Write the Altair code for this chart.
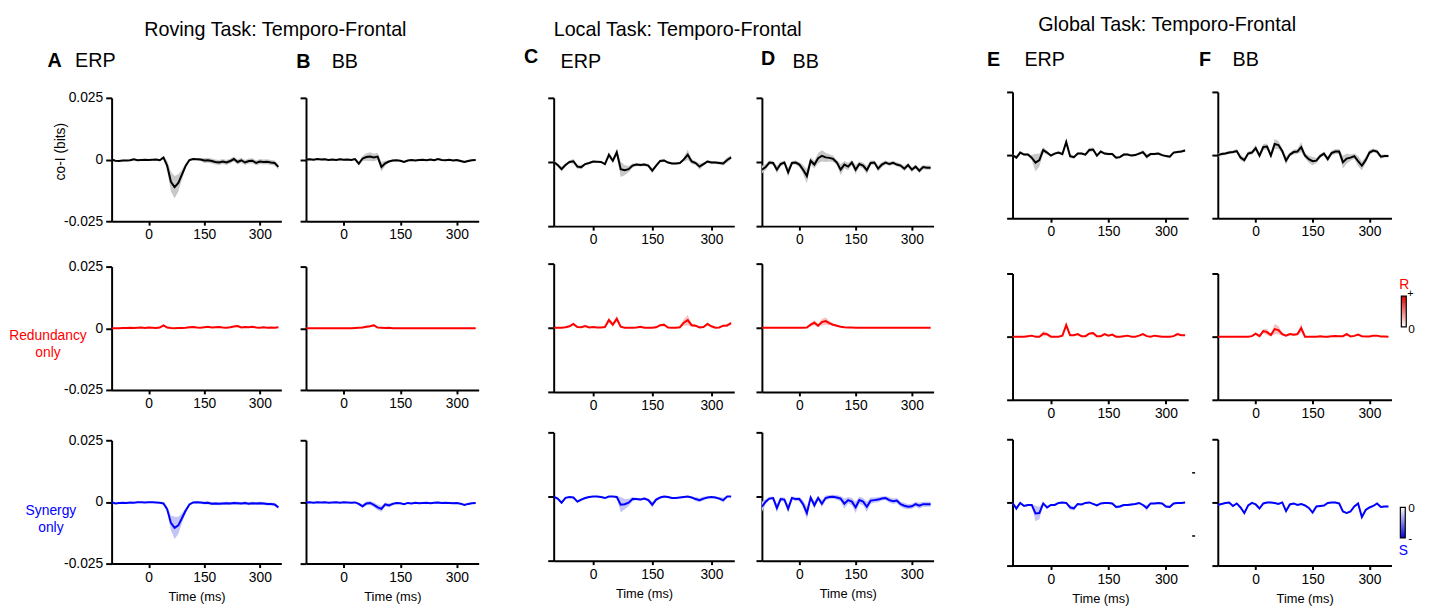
import altair as alt
import pandas as pd

# time axis (ms) shared by all panels
T = list(range(-100, 351, 10))
UNIT = 1e-4  # all series below are written in units of 1e-4 bits

# ---- Roving task ----
A1 = [0, -5, -6, -4, -4, -3, 1, -3, -2, -1,
      -2, -1, 0, -3, 8, -25, -90, -112, -95, -60,
      -25, -2, 2, 1, 0, -4, -3, -6, -10, -12,
      -8, -12, -6, 2, -10, -3, -12, -6, -5, -14,
      -8, -10, -9, -12, -14, -30]
A1_E = [3, 3, 3, 3, 3, 3, 3, 3, 3, 3,
        3, 3, 3, 4, 6, 20, 40, 45, 35, 20,
        10, 5, 4, 4, 6, 10, 10, 10, 10, 10,
        10, 10, 10, 10, 10, 10, 10, 10, 10, 10,
        10, 10, 10, 10, 10, 10]
A2 = [0, 0, 0, 1, 1, 2, 1, 2, 3, 1,
      3, 2, 1, 3, 12, 3, 1, 0, 1, 1,
      2, 4, 5, 3, 2, 4, 6, 3, 4, 5,
      3, 2, 4, 7, 9, 3, 5, 4, 6, 3,
      2, 4, 2, 3, 2, 4]
A2_E = [1, 1, 1, 1, 1, 1, 1, 1, 1, 1,
        1, 1, 1, 2, 4, 2, 1, 1, 1, 1,
        1, 2, 2, 2, 1, 2, 2, 2, 2, 2,
        2, 2, 2, 3, 4, 2, 2, 2, 2, 2,
        2, 2, 2, 2, 2, 2]
A3 = [-1, -6, -4, -3, -4, -2, -3, -1, -1, -2,
      -1, -1, -2, -3, -6, -30, -85, -105, -95, -65,
      -35, -10, -2, -1, -2, -4, -3, -7, -6, -7,
      -6, -5, -6, -4, -5, -6, -4, -7, -5, -6,
      -5, -6, -8, -8, -10, -22]
A3_E = [2, 2, 2, 2, 2, 2, 2, 2, 2, 2,
        2, 2, 2, 2, 4, 12, 30, 45, 35, 20,
        10, 4, 3, 3, 4, 6, 6, 6, 6, 6,
        6, 6, 6, 6, 6, 6, 6, 6, 6, 6,
        6, 6, 6, 6, 6, 6]
B1 = [0, 1, -1, 2, 0, 1, -2, 0, -2, 1,
      -1, 0, -2, 2, -17, 4, 10, 12, 8, 12,
      -30, -15, -8, -4, -3, -5, -10, -4, -2, -4,
      -2, -1, -3, 0, -3, 2, -2, -3, -1, -4,
      -2, -6, -10, -6, -3, -2]
B1_E = [3, 3, 3, 3, 3, 3, 3, 3, 3, 3,
        3, 3, 3, 4, 8, 10, 15, 18, 15, 14,
        20, 10, 5, 4, 3, 3, 4, 3, 3, 3,
        3, 3, 3, 3, 3, 3, 3, 3, 3, 3,
        5, 5, 5, 5, 3, 3]
B2 = [0, 0, 0, 0, 0, 0, 0, 0, 0, 0,
      0, 0, 0, 1, 2, 3, 6, 8, 12, 3,
      2, 1, 2, 0, 0, 0, 0, 0, 0, 0,
      0, 0, 0, 0, 0, 0, 0, 0, 0, 0,
      0, 0, 0, 0, 0, 0]
B2_E = [1, 1, 1, 1, 1, 1, 1, 1, 1, 1,
        1, 1, 1, 1, 2, 3, 4, 4, 4, 2,
        2, 1, 1, 1, 1, 1, 1, 1, 1, 1,
        1, 1, 1, 1, 1, 1, 1, 1, 1, 1,
        1, 1, 1, 1, 1, 1]
B3 = [-2, -1, -3, -1, -2, -1, -3, -2, -1, -3,
      -1, -2, -3, -2, -8, -18, -6, -4, -12, -22,
      -28, -10, -14, -8, -4, -5, -9, -4, -6, -3,
      -5, -4, -3, -5, -3, -2, -4, -3, -4, -5,
      -4, -7, -12, -8, -5, -4]
B3_E = [2, 2, 2, 2, 2, 2, 2, 2, 2, 2,
        2, 2, 2, 2, 6, 8, 8, 8, 10, 12,
        12, 8, 8, 6, 3, 3, 3, 3, 3, 3,
        3, 3, 3, 3, 3, 3, 3, 3, 3, 3,
        3, 3, 4, 3, 3, 3]

# ---- Local task ----
C1 = [0, -12, -28, -12, 0, 3, -18, -20, -8, -4,
      2, 1, 0, -8, 28, 5, 38, -28, -32, -28,
      -14, -10, -12, -10, -14, -34, -14, 4, 6, -2,
      -6, -6, -4, 10, 28, 2, -4, -18, -8, 2,
      -2, -2, -4, -6, 8, 18]
C1_E = [4, 6, 10, 6, 5, 10, 8, 8, 5, 4,
        3, 3, 3, 5, 12, 8, 15, 30, 20, 12,
        8, 6, 6, 6, 6, 10, 6, 6, 6, 4,
        4, 4, 4, 8, 20, 10, 8, 12, 6, 6,
        6, 6, 6, 8, 10, 8]
C2 = [0, 0, 0, 2, 6, 15, 3, 2, 7, 1,
      3, 1, 1, 3, 30, 12, 35, 4, 0, 0,
      0, 1, 4, 0, 0, 0, 2, 10, 12, 1,
      0, 0, 2, 20, 30, 10, 8, 1, 3, 15,
      6, 0, 1, 8, 9, 18]
C2_E = [1, 1, 1, 1, 3, 6, 2, 2, 3, 1,
        1, 1, 1, 2, 10, 8, 12, 3, 1, 1,
        1, 1, 2, 1, 1, 1, 2, 5, 6, 1,
        1, 1, 2, 12, 20, 6, 5, 1, 2, 6,
        3, 1, 1, 4, 4, 6]
C3 = [0, -8, -24, -5, -2, -4, -20, -12, -6, -2,
      0, 0, -2, -6, 0, 0, -2, -32, -30, -24,
      -10, -10, -12, -8, -14, -32, -12, -4, 0, -2,
      -6, -6, -4, -2, 0, -4, -10, -14, -8, -4,
      -2, -4, -8, -14, 0, 0]
C3_E = [2, 4, 6, 3, 3, 3, 5, 5, 3, 2,
        2, 2, 2, 3, 2, 2, 3, 30, 20, 14,
        8, 5, 5, 5, 6, 12, 6, 3, 2, 2,
        3, 3, 3, 3, 2, 3, 8, 8, 8, 4,
        3, 4, 6, 10, 2, 2]
D1 = [-30, -20, -2, -4, -30, -8, -2, -40, -4, -2,
      -10, -30, -55, 5, -10, 15, 24, 18, 16, 12,
      -2, -30, -10, -18, -2, -30, -8, -14, -32, -4,
      -2, -26, -10, -2, -8, -3, -10, -14, -26, -12,
      -30, -18, -34, -20, -22, -22]
D1_E = [15, 12, 8, 8, 15, 10, 8, 18, 8, 8,
        10, 18, 28, 15, 15, 20, 22, 18, 14, 12,
        10, 22, 14, 14, 10, 18, 10, 12, 16, 10,
        8, 12, 10, 8, 8, 8, 8, 8, 10, 8,
        10, 8, 10, 8, 8, 8]
D2 = [0, 0, 0, 0, 0, 0, 0, 0, 0, 0,
      0, 0, 1, 12, 20, 8, 22, 26, 18, 12,
      8, 4, 2, 1, 1, 0, 0, 0, 0, 0,
      0, 0, 0, 0, 0, 0, 0, 0, 0, 0,
      0, 0, 0, 0, 0, 0]
D2_E = [1, 1, 1, 1, 1, 1, 1, 1, 1, 1,
        1, 1, 1, 6, 10, 6, 12, 14, 8, 4,
        3, 2, 1, 1, 1, 1, 1, 1, 1, 1,
        1, 1, 1, 1, 1, 1, 1, 1, 1, 1,
        1, 1, 1, 1, 1, 1]
D3 = [-40, -20, -8, -6, -45, -10, -12, -48, -6, -10,
      -10, -30, -65, -4, -34, -6, -28, -6, -2, -1,
      -4, -8, -28, -14, -20, -42, -14, -20, -40, -16,
      -14, -12, -8, -6, -14, -18, -16, -30, -36, -40,
      -38, -30, -36, -30, -30, -30]
D3_E = [20, 10, 6, 6, 18, 8, 8, 16, 6, 8,
        8, 14, 24, 8, 16, 8, 14, 10, 8, 8,
        10, 10, 20, 12, 14, 22, 14, 14, 20, 12,
        10, 10, 8, 8, 10, 10, 10, 10, 12, 10,
        10, 10, 12, 10, 10, 10]

# ---- Global task ----
E1 = [0, -10, 10, 2, 2, -10, -30, -20, 20, 10,
      -2, 6, 10, 4, 52, -4, -8, 6, 6, 2,
      20, 22, -2, 14, 6, 4, 4, -10, -8, 2,
      2, -2, 0, 6, 12, -6, 4, 4, 6, 0,
      -4, -6, 10, 12, 14, 18]
E1_E = [4, 6, 6, 5, 5, 10, 35, 25, 12, 8,
        5, 5, 5, 5, 15, 8, 6, 5, 5, 5,
        8, 8, 5, 5, 5, 5, 5, 6, 5, 5,
        5, 5, 5, 5, 8, 10, 5, 5, 5, 5,
        5, 5, 5, 5, 5, 5]
E2 = [0, 0, 0, 0, 2, 4, 0, 0, 12, 10,
      0, 0, 0, 4, 46, 6, 6, 10, 2, 2,
      12, 14, 2, 2, 10, 4, 8, 0, 0, 2,
      4, 0, 0, 4, 10, 2, 0, 4, 2, 0,
      0, 0, 2, 10, 6, 6]
E2_E = [1, 1, 1, 1, 1, 2, 1, 1, 10, 6,
        1, 1, 1, 2, 14, 3, 3, 4, 1, 1,
        4, 5, 1, 1, 3, 2, 3, 1, 1, 1,
        1, 1, 1, 2, 4, 1, 1, 2, 1, 1,
        1, 1, 1, 4, 2, 2]
E3 = [-2, -24, -2, -14, -10, -10, -44, -42, -4, -20,
      -10, -10, -2, 0, -2, -20, -24, -6, -8, -2,
      0, -6, -12, -4, -2, -2, -4, -18, -16, -10,
      -10, -8, -6, -2, -10, -22, -4, -4, -2, -4,
      -16, -18, -4, -2, -2, 0]
E3_E = [3, 10, 3, 4, 4, 4, 30, 25, 4, 6,
        4, 4, 3, 3, 3, 10, 8, 4, 4, 3,
        3, 3, 4, 3, 3, 3, 3, 6, 5, 4,
        4, 4, 3, 3, 4, 12, 3, 3, 3, 3,
        5, 5, 3, 3, 3, 3]
F1 = [0, 4, 6, 10, 12, 16, -10, -20, 6, 10,
      28, -2, 32, 34, -2, 44, 40, 16, -22, 2,
      12, 14, 32, -2, -16, -24, -22, -4, 6, -16,
      8, 14, 14, -28, -14, -10, -4, -24, -42, -20,
      10, 18, 14, -6, -4, -4]
F1_E = [6, 6, 6, 6, 6, 8, 10, 10, 8, 8,
        12, 10, 12, 12, 10, 20, 16, 10, 16, 8,
        10, 10, 20, 10, 14, 16, 10, 8, 8, 10,
        10, 10, 10, 25, 20, 12, 10, 20, 18, 12,
        10, 8, 8, 8, 6, 6]
F2 = [0, 0, 0, 0, 0, 0, 0, 0, 0, 2,
      12, 2, 22, 18, 6, 30, 26, 10, 4, 10,
      8, 10, 34, 0, 0, 0, 0, 2, 0, 0,
      2, 3, 2, 2, 10, 1, 3, 8, 2, 1,
      1, 4, 4, 1, 1, 0]
F2_E = [1, 1, 1, 1, 1, 1, 1, 1, 1, 1,
        4, 2, 8, 12, 4, 20, 16, 6, 3, 4,
        4, 5, 18, 1, 1, 1, 1, 1, 1, 1,
        1, 1, 1, 1, 6, 1, 2, 3, 1, 1,
        1, 2, 2, 1, 1, 1]
F3 = [-10, -6, -2, 0, -14, -4, -20, -42, -12, -2,
      -8, -24, -4, 0, 0, -2, -6, 0, -34, -8,
      -4, -10, -6, -12, -22, -40, -16, -14, -12, -2,
      0, 0, -4, -36, -42, -36, -16, -4, -58, -30,
      -20, -14, -4, -18, -16, -16]
F3_E = [3, 3, 3, 3, 3, 3, 3, 4, 3, 3,
        3, 4, 3, 3, 3, 3, 3, 3, 4, 3,
        3, 3, 3, 3, 3, 4, 3, 3, 3, 3,
        3, 3, 3, 4, 4, 4, 3, 3, 5, 4,
        3, 3, 3, 3, 3, 3]

TASK_TITLES = ["Roving Task: Temporo-Frontal", "Local Task: Temporo-Frontal",
               "Global Task: Temporo-Frontal"]
PANEL_LETTERS = ["A", "B", "C", "D", "E", "F"]
PANEL_NAMES = ["ERP", "BB", "ERP", "BB", "ERP", "BB"]
Y_TICKS = [-0.025, 0, 0.025]
X_TICKS = [0, 150, 300]

FONT = "Liberation Sans"
XDOM = [-100, 358]
YDOM = [-0.025, 0.025]
BLACK = ("#000000", "#c8c8c8")
RED = ("#ff0000", "#f7c0c0")
BLUE = ("#0000ff", "#c4c4f5")
ONE = pd.DataFrame({"k": [0]})


def make_df(vals, errs):
    return pd.DataFrame({
        "t": T,
        "v": [v * UNIT for v in vals],
        "lo": [(v - e) * UNIT for v, e in zip(vals, errs)],
        "hi": [(v + e) * UNIT for v, e in zip(vals, errs)],
    })


def txt(text, x, y, size=20, color="black", weight="normal", align="left",
        baseline="alphabetic"):
    return alt.Chart(ONE).mark_text(
        text=text, fontSize=size, color=color, fontWeight=weight, align=align,
        baseline=baseline, font=FONT).encode(x=alt.value(x), y=alt.value(y))


def hrule(x1, x2, y, color="black", w=1.5):
    return alt.Chart(ONE).mark_rule(color=color, strokeWidth=w).encode(
        x=alt.value(x1), x2=alt.value(x2), y=alt.value(y))


def colorbar(x1, x2, y1, y2, top, bottom):
    grad = alt.LinearGradient(
        gradient="linear", x1=0, x2=0, y1=0, y2=1,
        stops=[alt.GradientStop(color=top, offset=0),
               alt.GradientStop(color=bottom, offset=1)])
    return alt.Chart(ONE).mark_rect(fill=grad, stroke="black", strokeWidth=1.2).encode(
        x=alt.value(x1), x2=alt.value(x2), y=alt.value(y1), y2=alt.value(y2))


def frame(left, right, top, bottom, w, h):
    # invisible box that fixes the room each panel takes in the layout
    return alt.Chart(ONE).mark_rect(opacity=0).encode(
        x=alt.value(-left), x2=alt.value(w + right),
        y=alt.value(-top), y2=alt.value(h + bottom))


def panel(vals, errs, colors, width, height, room, ylabels=False, ytitle=None,
          xtitle=False, extras=(), lift=0):
    df = make_df(vals, errs)
    ykw = dict(values=Y_TICKS, tickSize=6, labelPadding=3, labelFontSize=14,
               labels=ylabels,
               labelExpr="datum.value > 0 ? '0.025' : (datum.value < 0 ? '-0.025' : '0')")
    if ytitle is not None:
        ykw.update(ytitle)
    else:
        ykw["title"] = None
    yaxis = alt.Axis(**ykw)
    xkw = dict(values=X_TICKS, tickSize=4, labelPadding=3, labelFontSize=14,
               title="Time (ms)" if xtitle else None, titleFontSize=13,
               titlePadding=6)
    if lift:
        xkw["offset"] = -lift
    xaxis = alt.Axis(**xkw)
    xs = alt.Scale(domain=XDOM, nice=False, zero=False)
    if lift:
        ys = alt.Scale(domain=YDOM, nice=False, zero=False,
                       range=[height - lift, -lift])
    else:
        ys = alt.Scale(domain=YDOM, nice=False, zero=False)
    base = alt.Chart(df)
    band = base.mark_area(color=colors[1], opacity=1, clip=True).encode(
        x=alt.X("t:Q", scale=xs, axis=xaxis),
        y=alt.Y("lo:Q", scale=ys, axis=yaxis),
        y2="hi:Q")
    line = base.mark_line(color=colors[0], strokeWidth=2, clip=True).encode(
        x=alt.X("t:Q", scale=xs, axis=xaxis),
        y=alt.Y("v:Q", scale=ys, axis=yaxis))
    box = frame(room[0], room[1], room[2], room[3], width, height)
    return alt.layer(box, band, line, *extras).properties(width=width, height=height)


YT1 = dict(title="co-I (bits)", titleAngle=270, titleX=-52, titleY=54,
           titleAlign="center", titleBaseline="middle", titleFontSize=14,
           titleColor="black")
YT2 = dict(title=["Redundancy", "only"], titleAngle=0, titleX=-65, titleY=70,
           titleAlign="center", titleBaseline="middle", titleFontSize=14,
           titleLineHeight=17, titleColor="#ff0000")
YT3 = dict(title=["Synergy", "only"], titleAngle=0, titleX=-62, titleY=71,
           titleAlign="center", titleBaseline="middle", titleFontSize=14,
           titleLineHeight=17, titleColor="#0000ff")

# widths / heights per column / group
WA, WB, WC, WD, WE, WF = 172, 175, 183, 174, 178, 176
H1, H2, H3 = 125, 130, 128
LIFT3 = 6   # top-row plots of the Global group sit a little higher
# horizontal room (left, right) around each column's plot area
LR = {"A": (105, 10), "B": (15, 36), "C": (40, 11), "D": (17, 40),
      "E": (40, 8), "F": (22, 30)}
TOPS = {1: 51, 2: 50, 3: 56}   # room above top-row plots, per group
MID_TOP = 12                    # room above rows 2 and 3
# room below rows 1, 2, 3 per group
BOT = {1: (34, 39, 40), 2: (26, 29, 40), 3: (38, 28, 40)}


def room(col, grp, row):
    l, r = LR[col]
    t = TOPS[grp] if row == 0 else MID_TOP
    return (l, r, t, BOT[grp][row])


# ---- Roving group ----
pA1 = panel(A1, A1_E, BLACK, WA, H1, room("A", 1, 0), ylabels=True, ytitle=YT1, extras=[
    txt(PANEL_LETTERS[0], -65, -31, weight="bold"),
    txt(PANEL_NAMES[0], -37, -31)])
pA2 = panel(A2, A2_E, RED, WA, H1, room("A", 1, 1), ylabels=True, ytitle=YT2)
pA3 = panel(A3, A3_E, BLUE, WA, H1, room("A", 1, 2), ylabels=True, ytitle=YT3, xtitle=True)
pB1 = panel(B1, B1_E, BLACK, WB, H1, room("B", 1, 0), extras=[
    txt(PANEL_LETTERS[1], -10, -30, weight="bold"),
    txt(PANEL_NAMES[1], 26, -30)])
pB2 = panel(B2, B2_E, RED, WB, H1, room("B", 1, 1))
pB3 = panel(B3, B3_E, BLUE, WB, H1, room("B", 1, 2), xtitle=True)

# ---- Local group ----
pC1 = panel(C1, C1_E, BLACK, WC, H2, room("C", 2, 0), extras=[
    txt(PANEL_LETTERS[2], -30, -35, weight="bold"),
    txt(PANEL_NAMES[2], 7, -30)])
pC2 = panel(C2, C2_E, RED, WC, H2, room("C", 2, 1))
pC3 = panel(C3, C3_E, BLUE, WC, H2, room("C", 2, 2), xtitle=True)
pD1 = panel(D1, D1_E, BLACK, WD, H2, room("D", 2, 0), extras=[
    txt(PANEL_LETTERS[3], -1, -33, weight="bold"),
    txt(PANEL_NAMES[3], 31, -30)])
pD2 = panel(D2, D2_E, RED, WD, H2, room("D", 2, 1))
pD3 = panel(D3, D3_E, BLUE, WD, H2, room("D", 2, 2), xtitle=True)

# ---- Global group ----
pE1 = panel(E1, E1_E, BLACK, WE, H3, room("E", 3, 0), lift=LIFT3, extras=[
    txt(PANEL_LETTERS[4], -26, -32, weight="bold"),
    txt(PANEL_NAMES[4], 12, -32)])
pE2 = panel(E2, E2_E, RED, WE, H3, room("E", 3, 1))
pE3 = panel(E3, E3_E, BLUE, WE, H3, room("E", 3, 2), xtitle=True, extras=[
    hrule(182, 185, 34), hrule(182, 185, 98)])
pF1 = panel(F1, F1_E, BLACK, WF, H3, room("F", 3, 0), lift=LIFT3, extras=[
    txt(PANEL_LETTERS[5], -19, -32, weight="bold"),
    txt(PANEL_NAMES[5], 15, -32)])
pF2 = panel(F2, F2_E, RED, WF, H3, room("F", 3, 1), extras=[
    colorbar(186, 191, 23, 54, "#e00000", "#ffffff"),
    txt("R", 189, 16, size=14, color="#ff0000", align="center"),
    txt("+", 192, 24, size=11),
    txt("0", 193, 60, size=12)])
pF3 = panel(F3, F3_E, BLUE, WF, H3, room("F", 3, 2), xtitle=True, extras=[
    colorbar(185, 190, 69, 100, "#ffffff", "#0000e0"),
    txt("0", 193, 74, size=12),
    txt("-", 193, 104, size=12),
    txt("S", 188, 117, size=14, color="#0000ff", align="center")])


def group(cols, title, dx, offset):
    c = [alt.vconcat(*col, spacing=0) for col in cols]
    return alt.hconcat(*c, spacing=0, title=alt.TitleParams(
        text=title, anchor="start", frame="bounds", dx=dx, offset=offset,
        fontSize=20, fontWeight="normal", font=FONT, color="black",
        baseline="alphabetic"))


G1 = group([(pA1, pA2, pA3), (pB1, pB2, pB3)], TASK_TITLES[0], 138, -8)
G2 = group([(pC1, pC2, pC3), (pD1, pD2, pD3)], TASK_TITLES[1], 40, -8)
G3 = group([(pE1, pE2, pE3), (pF1, pF2, pF3)], TASK_TITLES[2], 66, -8)

chart = alt.hconcat(G1, G2, G3, spacing=0).properties(
    padding={"left": 0, "top": 3, "right": 5, "bottom": 5}
).configure(font=FONT).configure_view(strokeWidth=0).configure_axis(
    domainColor="black", domainWidth=2, tickColor="black", tickWidth=2,
    labelColor="black", titleColor="black", grid=False, labelFont=FONT,
    titleFont=FONT, titleFontWeight="normal")

chart.save("out.html", embed_options={"renderer": "svg", "actions": False})
